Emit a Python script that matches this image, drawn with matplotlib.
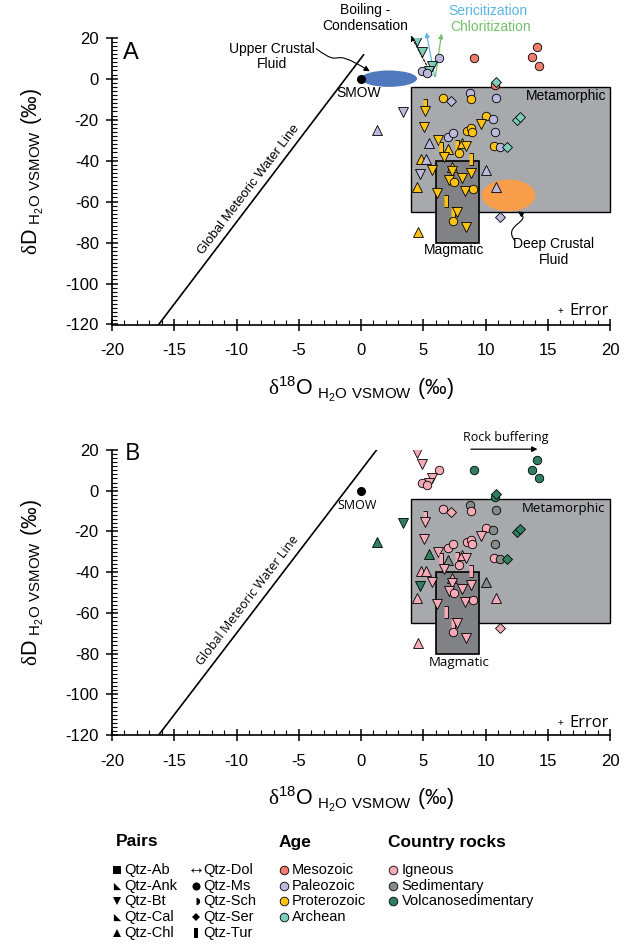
import numpy as np
import matplotlib.pyplot as plt
from matplotlib.path import Path
from matplotlib.patches import Rectangle, Ellipse, FancyArrowPatch
from matplotlib.ticker import MultipleLocator

plt.rcParams['font.family'] = ['Liberation Sans', 'DejaVu Sans']
plt.rcParams['axes.unicode_minus'] = False
plt.rcParams['mathtext.fontset'] = 'custom'
plt.rcParams['mathtext.rm'] = 'Liberation Serif'
plt.rcParams['mathtext.sf'] = 'Liberation Sans'

# fluid isotope compositions from quartz-mineral pairs (permil VSMOW)
d18o = [4.5, 4.9, 6.3, 5.7, 5.45, 4.9, 5.3, 9.1, 14.1, 13.7, 14.3, 10.8, 10.85,
        6.55, 7.2, 8.75, 8.8, 10.85, 5.15, 5.15, 3.35, 1.3, 10.0, 10.6, 9.65,
        12.5, 12.8, 5.1, 8.5, 8.8, 8.95, 10.8, 7.0, 7.4, 5.5, 6.2, 6.45, 7.0,
        7.7, 8.15, 8.45, 7.9, 10.7, 11.15, 11.7, 4.8, 5.2, 6.7, 8.8, 5.7, 4.75,
        7.3, 7.3, 8.8, 10.0, 4.5, 7.1, 7.5, 8.1, 8.35, 9.0, 10.85, 6.1, 6.8,
        7.35, 7.35, 7.75, 8.4, 11.2, 4.55]
dd = [18.3, 12.9, 10.2, 6.3, 3.8, 3.6, 2.7, 10.2, 15.3, 10.4, 6.3, -3.1, -1.5,
      -9.2, -10.7, -6.8, -10.1, -9.4, -12.8, -15.6, -16.1, -25.2, -18.3, -19.5,
      -22.0, -20.3, -18.6, -23.6, -25.3, -24.2, -26.0, -26.0, -28.3, -26.3,
      -31.2, -29.9, -33.6, -34.2, -33.1, -31.5, -33.0, -36.4, -33.1, -33.4,
      -33.4, -39.3, -39.3, -38.4, -39.3, -44.8, -46.6, -43.1, -45.3, -46.2,
      -44.6, -52.7, -49.4, -50.2, -48.4, -54.6, -53.8, -52.7, -55.6, -59.6,
      -65.7, -69.5, -64.9, -72.2, -67.5, -74.8]
pair = ['Bt', 'Bt', 'Ms', 'Bt', 'Bt', 'Ms', 'Ms', 'Ms', 'Ms', 'Ms', 'Ms', 'Ms', 'Ser',
        'Ms', 'Ser', 'Ms', 'Ms', 'Ms', 'Tur', 'Bt', 'Bt', 'Chl', 'Ms', 'Ms', 'Bt',
        'Ser', 'Ser', 'Bt', 'Ms', 'Ms', 'Ms', 'Ms', 'Ms', 'Ms', 'Chl', 'Bt', 'Tur',
        'Chl', 'Tur', 'Chl', 'Bt', 'Ms', 'Ms', 'Ms', 'Ser', 'Chl', 'Chl', 'Bt',
        'Tur', 'Bt', 'Bt', 'Chl', 'Bt', 'Bt', 'Chl', 'Chl', 'Bt', 'Ms', 'Bt', 'Bt',
        'Ms', 'Chl', 'Bt', 'Tur', 'Tur', 'Ms', 'Bt', 'Bt', 'Ser', 'Chl']
age = ['Arc', 'Arc', 'Pal', 'Arc', 'Arc', 'Pal', 'Pal', 'Mes', 'Mes', 'Mes', 'Mes',
       'Mes', 'Arc', 'Pro', 'Pal', 'Pal', 'Pro', 'Pal', 'Pro', 'Pro', 'Pal', 'Pal',
       'Pro', 'Pal', 'Pro', 'Arc', 'Arc', 'Pro', 'Pro', 'Pro', 'Pro', 'Pal', 'Pal',
       'Pal', 'Pal', 'Pro', 'Pro', 'Pro', 'Pro', 'Pro', 'Pro', 'Pro', 'Pro', 'Pal',
       'Arc', 'Pro', 'Pal', 'Pro', 'Pro', 'Pro', 'Pal', 'Pro', 'Pro', 'Pro', 'Pal',
       'Pro', 'Pro', 'Pro', 'Pro', 'Pro', 'Pro', 'Pal', 'Pro', 'Pro', 'Pro', 'Pro',
       'Pro', 'Pro', 'Pal', 'Pro']
rock = ['Ign', 'Ign', 'Ign', 'Ign', 'Ign', 'Ign', 'Ign', 'Vol', 'Vol', 'Vol', 'Vol',
        'Vol', 'Vol', 'Ign', 'Ign', 'Sed', 'Ign', 'Sed', 'Ign', 'Ign', 'Vol', 'Vol',
        'Ign', 'Sed', 'Ign', 'Vol', 'Vol', 'Ign', 'Ign', 'Ign', 'Ign', 'Sed', 'Ign',
        'Ign', 'Vol', 'Ign', 'Ign', 'Sed', 'Ign', 'Ign', 'Ign', 'Ign', 'Ign', 'Sed',
        'Vol', 'Ign', 'Ign', 'Ign', 'Ign', 'Ign', 'Vol', 'Ign', 'Ign', 'Ign', 'Sed',
        'Ign', 'Ign', 'Ign', 'Ign', 'Ign', 'Ign', 'Ign', 'Ign', 'Ign', 'Ign', 'Ign',
        'Ign', 'Ign', 'Ign', 'Ign']

pair_keys = ['Ab', 'Ank', 'Bt', 'Cal', 'Chl', 'Dol', 'Ms', 'Sch', 'Ser', 'Tur']
age_keys = ['Mes', 'Pal', 'Pro', 'Arc']
age_names = ['Mesozoic', 'Paleozoic', 'Proterozoic', 'Archean']
age_cols = ['#f37b6c', '#bdb9dc', '#fcc314', '#7fcdbd']
rock_keys = ['Ign', 'Sed', 'Vol']
rock_names = ['Igneous', 'Sedimentary', 'Volcanosedimentary']
rock_cols = ['#f5aab8', '#858b89', '#2f7f61']

corner = [(-1, -1), (1, -1), (-1, 1)]
bar = [(-0.32, -1), (0.32, -1), (0.32, 1), (-0.32, 1)]
mk = {'Ab': 's', 'Ank': corner, 'Bt': 'v', 'Cal': corner, 'Chl': '^',
      'Dol': r'$\leftrightarrow$', 'Ms': 'o', 'Sch': Path.unit_circle_righthalf(),
      'Ser': 'D', 'Tur': bar}
ms = {'Ab': 5.5, 'Ank': 5.5, 'Bt': 6.6, 'Cal': 5.5, 'Chl': 6.6, 'Dol': 8, 'Ms': 6.1,
      'Sch': 5.5, 'Ser': 4.6, 'Tur': 8.2}

fig = plt.figure(figsize=(6.26, 9.44), dpi=100)
ax_a = fig.add_axes([112 / 626, 1 - 324.5 / 944, 498 / 626, 286.8 / 944])
ax_b = fig.add_axes([112 / 626, 1 - 735 / 944, 498 / 626, 285 / 944])

xlab = r'$\mathrm{\delta}^{\mathsf{18}}\mathsf{O}_{\ \mathsf{H_2O\ VSMOW}}\ \mathsf{(‰)}$'
ylab = r'$\mathrm{\delta}\mathsf{D}_{\ \mathsf{H_2O\ VSMOW}}\ \mathsf{(‰)}$'


def setup(ax):
    ax.set_xlim(-20, 20)
    ax.set_ylim(-120, 20)
    for s in ['top', 'right']:
        ax.spines[s].set_visible(False)
    for s in ['left', 'bottom']:
        ax.spines[s].set_linewidth(1.2)
    ax.xaxis.set_major_locator(MultipleLocator(5))
    ax.xaxis.set_minor_locator(MultipleLocator(1))
    ax.yaxis.set_major_locator(MultipleLocator(20))
    ax.yaxis.set_minor_locator(MultipleLocator(2))
    ax.tick_params(which='major', direction='inout', length=9, width=1.1, labelsize=12)
    ax.tick_params(which='minor', direction='in', length=3.5, width=0.8)
    ax.tick_params(axis='x', which='major', pad=9)
    ax.tick_params(axis='y', which='major', pad=5)
    ax.text(0.5, -0.175, xlab, transform=ax.transAxes, ha='center', va='top', fontsize=15.5)
    ax.text(-0.149, 0.535, ylab, transform=ax.transAxes, ha='center', va='baseline',
            rotation=90, rotation_mode='anchor', fontsize=15.5)

    # interpretive fields
    ax.add_patch(Rectangle((4, -65), 16, 61, fc='#a7a9ac', ec='k', lw=1, zorder=1, clip_on=False))
    ax.add_patch(Rectangle((6, -80), 3.5, 40, fc='#808285', ec='k', lw=1.2, zorder=2))


def mwl(ax, x_top, font, size):
    xs = np.array([-16.25, x_top])
    ax.plot(xs, 8 * xs + 10, color='k', lw=1.2, zorder=3)
    p0 = ax.transData.transform((0, 10))
    p1 = ax.transData.transform((1, 18))
    ang = np.degrees(np.arctan2(p1[1] - p0[1], p1[0] - p0[0]))
    ax.annotate('Global Meteoric Water Line', xy=(-8.4, 8 * -8.4 + 10), xytext=(-4, 3),
                textcoords='offset points', rotation=ang, rotation_mode='anchor',
                ha='center', va='baseline', fontsize=size, family=font)


def points(ax, cols):
    for x, y, p, c in zip(d18o, dd, pair, cols):
        ax.plot(x, y, ls='none', marker=mk[p], ms=ms[p], mfc=c, mec='k', mew=0.6, zorder=5)


def squiggle(ax, pts, **kw):
    path = Path(pts, [Path.MOVETO, Path.CURVE4, Path.CURVE4, Path.CURVE4])
    ax.add_patch(FancyArrowPatch(path=path, arrowstyle='-|>', mutation_scale=8,
                                 color='k', lw=0.8, zorder=6, clip_on=False, **kw))


# ---- panel A: coloured by age
setup(ax_a)
mwl(ax_a, 0.2, 'Liberation Sans', 9.5)
ax_a.add_patch(Ellipse((2.25, 0), 4.5, 8, fc='#4f78bd', ec='none', zorder=2))
ax_a.add_patch(Ellipse((11.85, -57), 4.3, 15.5, fc='#f89d4a', ec='none', zorder=2.5))
ax_a.plot(0, 0, 'o', color='k', ms=5.5, zorder=6)
points(ax_a, [age_cols[age_keys.index(a)] for a in age])

ax_a.annotate('', xy=(3.9, 22.2), xytext=(5.8, 0.5), annotation_clip=False,
              arrowprops=dict(arrowstyle='-|>', ls=(0, (2, 1.5)), lw=0.8, color='k',
                              mutation_scale=7))
ax_a.annotate('', xy=(5.2, 24), xytext=(5.95, -0.3), annotation_clip=False,
              arrowprops=dict(arrowstyle='-|>', lw=0.9, color='#5bb5e4', mutation_scale=7))
ax_a.annotate('', xy=(6.5, 23.4), xytext=(5.95, -0.3), annotation_clip=False,
              arrowprops=dict(arrowstyle='-|>', lw=0.9, color='#74c06c', mutation_scale=7))
squiggle(ax_a, [(-3.6, 14.6), (-1.2, 4.0), (-2.8, 17.0), (0.7, 3.6)])
squiggle(ax_a, [(12.35, -79.0), (11.3, -71.0), (13.9, -70.0), (12.6, -64.8)])

ax_a.text(-18.5, 12.5, 'A', fontsize=17, ha='center', va='center')
ax_a.text(-7.15, 11, 'Upper Crustal\nFluid', fontsize=10, ha='center', va='center',
          linespacing=1.1)
ax_a.text(0.3, 29.8, 'Boiling -\nCondensation', fontsize=10, ha='center', va='center',
          linespacing=1.2, clip_on=False)
ax_a.text(10.2, 33, 'Sericitization', fontsize=10, color='#5bb5e4', ha='center', va='center')
ax_a.text(10.4, 25.4, 'Chloritization', fontsize=10, color='#74c06c', ha='center', va='center')
ax_a.text(-0.2, -7.1, 'SMOW', fontsize=10, ha='center', va='center')
ax_a.text(19.7, -8.3, 'Metamorphic', fontsize=10, ha='right', va='center', zorder=4)
ax_a.text(7.45, -83.6, 'Magmatic', fontsize=10, ha='center', va='center')
ax_a.text(15.5, -84.6, 'Deep Crustal\nFluid', fontsize=10, ha='center', va='center',
          linespacing=1.25)
ax_a.text(16.0, -113.4, '+', fontsize=7, ha='center', va='center')
ax_a.text(16.75, -113.4, 'Error', fontsize=12, family='Open Sans', ha='left', va='center')

# ---- panel B: coloured by country rock
setup(ax_b)
mwl(ax_b, 1.25, 'Open Sans', 9)
ax_b.plot(0, 0, 'o', color='k', ms=5.5, zorder=6)
points(ax_b, [rock_cols[rock_keys.index(r)] for r in rock])
ax_b.annotate('', xy=(14.4, 20.4), xytext=(8.6, 20.4), annotation_clip=False,
              arrowprops=dict(arrowstyle='-|>', lw=0.9, color='k', mutation_scale=8))
ax_b.text(11.65, 26.3, 'Rock buffering', fontsize=9, family='Open Sans', ha='center',
          va='center', clip_on=False)
ax_b.text(-18.4, 18, 'B', fontsize=17, family='Open Sans', ha='center', va='center')
ax_b.text(-0.35, -7.4, 'SMOW', fontsize=9, family='Open Sans', ha='center', va='center')
ax_b.text(19.6, -8.5, 'Metamorphic', fontsize=9.5, family='Open Sans', ha='right',
          va='center', zorder=4)
ax_b.text(7.9, -84.2, 'Magmatic', fontsize=9.5, family='Open Sans', ha='center', va='center')
ax_b.text(16.0, -114, '+', fontsize=7, ha='center', va='center')
ax_b.text(16.75, -114, 'Error', fontsize=12, family='Open Sans', ha='left', va='center')

# ---- legend block (figure pixel coordinates)
leg = fig.add_axes([0, 0, 1, 1])
leg.set_xlim(0, 626)
leg.set_ylim(944, 0)
leg.axis('off')
rows = 870 + 15.7 * np.arange(5)
leg.text(116, 842, 'Pairs', fontsize=12.5, fontweight='bold', va='center')
leg.text(279, 842, 'Age', fontsize=12.5, fontweight='bold', va='center')
leg.text(388, 842, 'Country rocks', fontsize=12.5, fontweight='bold', va='center')
for i, k in enumerate(pair_keys):
    col, row = divmod(i, 5)
    mx = 117 + 78.6 * col
    leg.plot(mx, rows[row], ls='none', marker=mk[k], ms=ms[k] * 0.95, color='k', mew=0)
    leg.text(mx + 7.5, rows[row], 'Qtz-' + k, fontsize=10.5, va='center')
for i, (n, c) in enumerate(zip(age_names, age_cols)):
    leg.plot(284, rows[i], 'o', ms=6.2, mfc=c, mec='k', mew=0.6)
    leg.text(291.5, rows[i], n, fontsize=10.5, va='center')
for i, (n, c) in enumerate(zip(rock_names, rock_cols)):
    leg.plot(393, rows[i], 'o', ms=6.2, mfc=c, mec='k', mew=0.6)
    leg.text(401.5, rows[i], n, fontsize=10.5, va='center')

fig.savefig('out.png', dpi=100)
